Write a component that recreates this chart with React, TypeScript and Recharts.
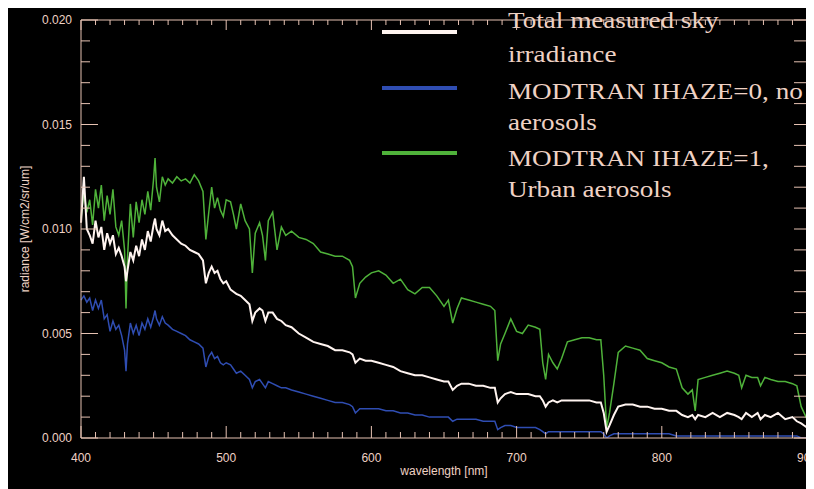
import { LineChart, Line, XAxis, YAxis, Legend } from 'recharts';

// wavelength samples (nm), denser where the absorption dips sit
const WAVELENGTH = [
  400, 402, 404, 406, 408, 410, 412, 414, 416, 418, 420, 422, 424, 426, 428, 430, 431,
  432, 434, 436, 438, 440, 442, 444, 446, 448, 450, 451, 452, 454, 456, 458, 460,
  463, 466, 469, 472, 475, 478, 481, 484, 486, 488, 490, 492, 494, 496, 498, 500,
  503, 505, 507, 510, 513, 516, 518, 520, 523, 525, 527, 529, 532, 535, 538, 541,
  545, 550, 555, 560, 565, 570, 575, 580, 585, 587, 589, 592, 596, 600,
  605, 610, 615, 620, 625, 630, 635, 640, 645, 650, 653, 656, 659, 662, 667, 672,
  677, 682, 685, 687, 689, 692, 696, 700,
  704, 708, 713, 716, 718, 720, 722, 725, 728, 731, 735, 740, 745, 750, 755, 758,
  760, 762, 764, 767, 770, 775, 780, 785, 790, 795, 800,
  805, 810, 814, 818, 821, 823, 825, 830, 835, 840, 845, 850, 853, 855, 858, 862,
  866, 868, 871, 875, 880, 885, 890, 893, 896, 898, 900,
];

// Total measured sky irradiance
const MEASURED = [
  0.0103, 0.0125, 0.0100, 0.0097, 0.0093, 0.0104, 0.0096, 0.0101, 0.0090, 0.0098, 0.0093, 0.0097, 0.0088, 0.0091, 0.0087, 0.0082, 0.0075,
  0.0080, 0.0089, 0.0085, 0.0092, 0.0087, 0.0095, 0.0090, 0.0099, 0.0094, 0.0102, 0.0105, 0.0100, 0.0097, 0.0104, 0.0099, 0.0100,
  0.0097, 0.0095, 0.0093, 0.0092, 0.0090, 0.0089, 0.0088, 0.0085, 0.0074, 0.0079, 0.0082, 0.0079, 0.0080, 0.0076, 0.0074, 0.0075,
  0.0071, 0.0070, 0.0069, 0.0068, 0.0066, 0.0064, 0.0056, 0.0060, 0.0062, 0.0061, 0.0056, 0.0060, 0.0060, 0.0057, 0.0056, 0.0054,
  0.0053, 0.0050, 0.0048, 0.0046, 0.0045, 0.0044, 0.0042, 0.0042, 0.0041, 0.0040, 0.0036, 0.0038, 0.0037, 0.0037,
  0.0036, 0.0035, 0.0034, 0.0032, 0.0031, 0.0030, 0.0030, 0.0029, 0.0028, 0.0027, 0.0027, 0.0023, 0.0025, 0.0026, 0.0026, 0.0025,
  0.0025, 0.0024, 0.0024, 0.0017, 0.0019, 0.0021, 0.0022, 0.0021,
  0.0021, 0.0021, 0.0020, 0.0020, 0.0018, 0.0015, 0.0017, 0.0018, 0.0017, 0.0018, 0.0018, 0.0018, 0.0018, 0.0018, 0.0017, 0.0017,
  0.0012, 0.0003, 0.0006, 0.0011, 0.0015, 0.0016, 0.0016, 0.0015, 0.0015, 0.0014, 0.0014,
  0.0013, 0.0013, 0.0011, 0.0010, 0.0011, 0.0009, 0.0011, 0.0010, 0.0012, 0.0010, 0.0012, 0.0011, 0.0010, 0.0009, 0.0012, 0.0010,
  0.0012, 0.0009, 0.0011, 0.0010, 0.0012, 0.0009, 0.0010, 0.0008, 0.0007, 0.0006, 0.0005,
];

// MODTRAN IHAZE=0, no aerosols
const IHAZE0 = [
  0.0066, 0.0068, 0.0065, 0.0067, 0.0061, 0.0066, 0.0062, 0.0066, 0.0057, 0.0059, 0.0051, 0.0056, 0.0052, 0.0054, 0.0049, 0.0042, 0.0032,
  0.0045, 0.0055, 0.0050, 0.0054, 0.0049, 0.0055, 0.0052, 0.0057, 0.0053, 0.0058, 0.0061, 0.0057, 0.0054, 0.0058, 0.0055, 0.0054,
  0.0052, 0.0051, 0.0050, 0.0049, 0.0047, 0.0046, 0.0045, 0.0043, 0.0034, 0.0039, 0.0041, 0.0038, 0.0039, 0.0036, 0.0035, 0.0036,
  0.0035, 0.0033, 0.0031, 0.0032, 0.0030, 0.0028, 0.0024, 0.0027, 0.0028, 0.0026, 0.0024, 0.0027, 0.0026, 0.0025, 0.0024, 0.0024,
  0.0023, 0.0022, 0.0021, 0.0020, 0.0019, 0.0018, 0.0017, 0.0017, 0.0016, 0.0015, 0.0012, 0.0014, 0.0014, 0.0014,
  0.0014, 0.0013, 0.0013, 0.0012, 0.0012, 0.0011, 0.0011, 0.0010, 0.0010, 0.0010, 0.0010, 0.0008, 0.0009, 0.0009, 0.0009, 0.0009,
  0.0008, 0.0008, 0.0008, 0.0004, 0.0005, 0.0006, 0.0006, 0.0005,
  0.0005, 0.0005, 0.0005, 0.0004, 0.0003, 0.0002, 0.0003, 0.0003, 0.0003, 0.0003, 0.0003, 0.0003, 0.0003, 0.0003, 0.0003, 0.0003,
  0.0002, 0.0000, 0.0001, 0.0002, 0.0002, 0.0002, 0.0002, 0.0002, 0.0002, 0.0002, 0.0002,
  0.0002, 0.0001, 0.0001, 0.0001, 0.0001, 0.0001, 0.0001, 0.0001, 0.0001, 0.0001, 0.0001, 0.0001, 0.0001, 0.0001, 0.0001, 0.0001,
  0.0001, 0.0001, 0.0001, 0.0001, 0.0001, 0.0001, 0.0001, 0.0001, 0.0000, 0.0000, 0.0000,
];

// MODTRAN IHAZE=1, Urban aerosols
const IHAZE1 = [
  0.0105, 0.0118, 0.0108, 0.0114, 0.0102, 0.0119, 0.0110, 0.0121, 0.0104, 0.0116, 0.0107, 0.0119, 0.0101, 0.0097, 0.0104, 0.0090, 0.0062,
  0.0086, 0.0112, 0.0096, 0.0113, 0.0103, 0.0114, 0.0107, 0.0118, 0.0109, 0.0124, 0.0134, 0.0120, 0.0113, 0.0125, 0.0121, 0.0124,
  0.0122, 0.0125, 0.0123, 0.0124, 0.0122, 0.0126, 0.0123, 0.0118, 0.0095, 0.0108, 0.0120, 0.0110, 0.0115, 0.0109, 0.0106, 0.0114,
  0.0113, 0.0107, 0.0100, 0.0112, 0.0104, 0.0100, 0.0079, 0.0098, 0.0103, 0.0097, 0.0085, 0.0104, 0.0108, 0.0090, 0.0101, 0.0097,
  0.0099, 0.0096, 0.0095, 0.0093, 0.0089, 0.0088, 0.0087, 0.0087, 0.0085, 0.0082, 0.0067, 0.0074, 0.0077, 0.0079,
  0.0080, 0.0078, 0.0074, 0.0076, 0.0071, 0.0069, 0.0072, 0.0072, 0.0068, 0.0063, 0.0066, 0.0055, 0.0062, 0.0067, 0.0066, 0.0065,
  0.0064, 0.0063, 0.0061, 0.0037, 0.0045, 0.0050, 0.0057, 0.0051,
  0.0050, 0.0054, 0.0053, 0.0052, 0.0036, 0.0028, 0.0040, 0.0036, 0.0033, 0.0038, 0.0046, 0.0047, 0.0048, 0.0048, 0.0047, 0.0047,
  0.0030, 0.0005, 0.0012, 0.0026, 0.0041, 0.0044, 0.0043, 0.0042, 0.0038, 0.0037, 0.0036,
  0.0034, 0.0033, 0.0024, 0.0021, 0.0023, 0.0013, 0.0028, 0.0029, 0.0030, 0.0031, 0.0032, 0.0031, 0.0030, 0.0024, 0.0030, 0.0029,
  0.0029, 0.0025, 0.0029, 0.0028, 0.0027, 0.0027, 0.0026, 0.0025, 0.0015, 0.0012, 0.0009,
];

const X_LABELS = [400, 500, 600, 700, 800, 900];
const Y_LABELS = ['0.000', '0.005', '0.010', '0.015', '0.020'];
const X_TITLE = 'wavelength [nm]';
const Y_TITLE = 'radiance [W/cm2/sr/um]';
const LEGEND_TEXT = [
  ['Total measured sky', 'irradiance'],
  ['MODTRAN IHAZE=0, no', 'aerosols'],
  ['MODTRAN IHAZE=1,', 'Urban aerosols'],
];

const WHITE = '#fff4f0';
const BLUE = '#2f4db2';
const GREEN = '#4fb23a';
const LEGEND_COLORS = [WHITE, BLUE, GREEN];
const AXIS = '#e6c2b2';
const TEXT = '#efd2c4';
const FONT = '"Liberation Sans", Arial, sans-serif';

const data = WAVELENGTH.map((wl, i) => ({
  wl,
  measured: MEASURED[i],
  ihaze0: IHAZE0[i],
  ihaze1: IHAZE1[i],
}));

// minor ticks: every 10 nm and every 0.001
const xTicks: number[] = [];
for (let v = 400; v <= 900; v += 10) xTicks.push(v);
const yTicks: number[] = [];
for (let i = 0; i <= 20; i++) yTicks.push(i / 1000);

const isMajorX = (v: number) => X_LABELS.includes(v);
const yLabelFor = (v: number) => Y_LABELS.find(l => Math.abs(Number(l) - v) < 1e-9);

function BottomTick({ x, y, payload }: any) {
  const major = isMajorX(payload.value);
  return (
    <g>
      <line x1={x} y1={y} x2={x} y2={y - (major ? 12 : 6)} stroke={AXIS} />
      {major && (
        <text x={x} y={y + 24} textAnchor="middle" fill={TEXT} fontSize={12} fontFamily={FONT}>
          {payload.value}
        </text>
      )}
    </g>
  );
}

function TopTick({ x, y, payload }: any) {
  const major = isMajorX(payload.value);
  return <line x1={x} y1={y} x2={x} y2={y + (major ? 10 : 5)} stroke={AXIS} />;
}

function LeftTick({ x, y, payload }: any) {
  const label = yLabelFor(payload.value);
  return (
    <g>
      <line x1={x} y1={y} x2={x + (label ? 17 : 9)} y2={y} stroke={AXIS} />
      {label && (
        <text x={x - 9} y={y + 4} textAnchor="end" fill={TEXT} fontSize={12} fontFamily={FONT}>
          {label}
        </text>
      )}
    </g>
  );
}

function RightTick({ x, y }: any) {
  return <line x1={x} y1={y} x2={x - 13} y2={y} stroke={AXIS} />;
}

function YTitle({ viewBox }: any) {
  const cx = viewBox.x + 4;
  const cy = viewBox.y + viewBox.height / 2;
  return (
    <text x={cx} y={cy} transform={`rotate(-90 ${cx} ${cy})`} textAnchor="middle"
      dominantBaseline="central" fill={TEXT} fontSize={12} fontFamily={FONT}>
      {Y_TITLE}
    </text>
  );
}

function XTitle({ viewBox }: any) {
  const cx = viewBox.x + viewBox.width / 2;
  const cy = viewBox.y + 33;
  return (
    <text x={cx} y={cy} textAnchor="middle" dominantBaseline="central"
      fill={TEXT} fontSize={12} fontFamily={FONT}>
      {X_TITLE}
    </text>
  );
}

const LINE_Y = [24, 80, 145];
const TEXT_Y = [[20, 54], [91, 122], [158, 189]];

function renderLegend() {
  return (
    <svg width={446} height={200} style={{ overflow: 'visible', display: 'block' }}>
      {LEGEND_TEXT.map((lines, i) => (
        <g key={i}>
          <line x1={14} x2={89} y1={LINE_Y[i]} y2={LINE_Y[i]} stroke={LEGEND_COLORS[i]} strokeWidth={4} />
          {lines.map((t, j) => (
            <text key={j} transform={`translate(140 ${TEXT_Y[i][j]}) scale(1.18 1)`}
              fill={TEXT} fontSize={23} fontFamily='"Liberation Serif", "Times New Roman", serif'>
              {t}
            </text>
          ))}
        </g>
      ))}
    </svg>
  );
}

export default function App() {
  return (
    <div style={{ width: 806, height: 481, background: '#000' }}>
      <LineChart width={806} height={481} data={data}
        margin={{ top: 11, right: 6, bottom: 21, left: 13 }}>
        <XAxis dataKey="wl" type="number" domain={[400, 900]} ticks={xTicks}
          interval={0} tickSize={0} tickMargin={0} height={30}
          axisLine={{ stroke: AXIS }} tick={<BottomTick />} label={<XTitle />} />
        <XAxis xAxisId="top" orientation="top" dataKey="wl" type="number" domain={[400, 900]}
          allowDataOverflow ticks={xTicks} interval={0} tickSize={0} tickMargin={0} height={1}
          axisLine={{ stroke: AXIS }} tick={<TopTick />} />
        <YAxis type="number" domain={[0, 0.02]} ticks={yTicks} interval={0}
          tickSize={0} tickMargin={0} width={60} allowDataOverflow
          axisLine={{ stroke: AXIS }} tick={<LeftTick />} label={<YTitle />} />
        <YAxis yAxisId="right" orientation="right" type="number" domain={[0, 0.02]}
          allowDataOverflow ticks={yTicks} interval={0} tickSize={0} tickMargin={0} width={1}
          axisLine={{ stroke: AXIS }} tick={<RightTick />} />
        <Legend content={renderLegend} layout="vertical" align="center" verticalAlign="middle"
          wrapperStyle={{ position: 'absolute', left: 360, top: 0, width: 446, height: 200 }} />
        <Line dataKey="ihaze0" stroke={BLUE} strokeWidth={1.5} dot={false} isAnimationActive={false} />
        <Line dataKey="ihaze1" stroke={GREEN} strokeWidth={1.5} dot={false} isAnimationActive={false} />
        <Line dataKey="measured" stroke={WHITE} strokeWidth={2} dot={false} isAnimationActive={false} />
      </LineChart>
    </div>
  );
}
